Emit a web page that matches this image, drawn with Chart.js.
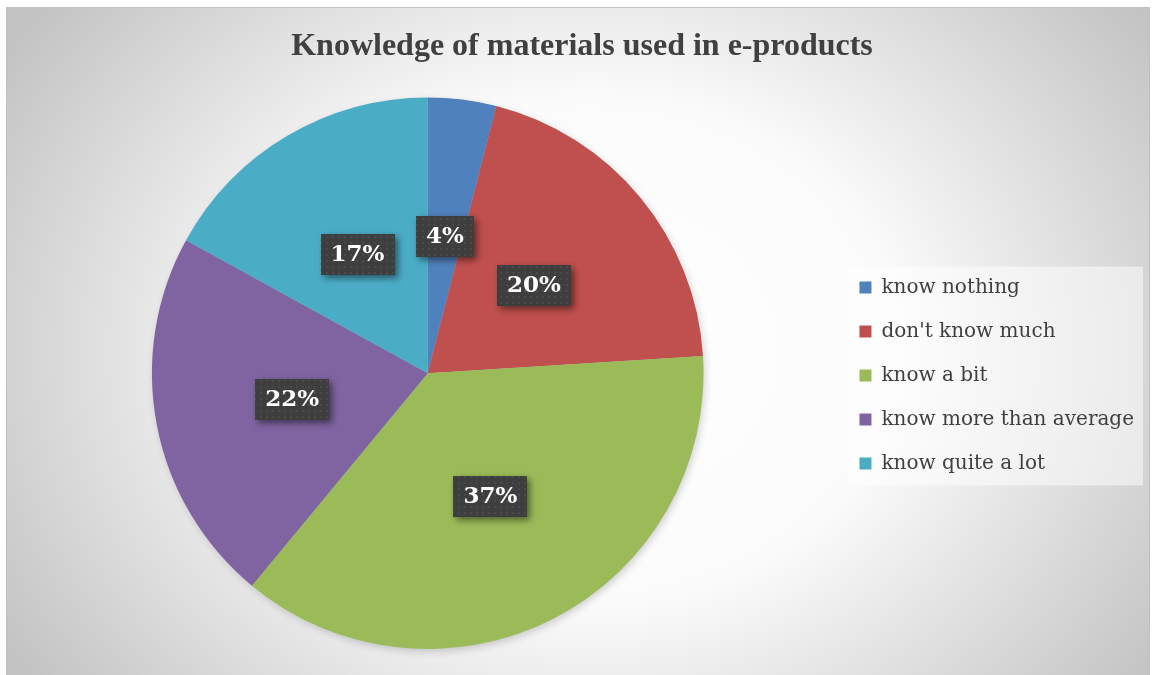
<!DOCTYPE html>
<html>
<head>
<meta charset="utf-8">
<script src="https://cdn.jsdelivr.net/npm/chart.js@4.4.1/dist/chart.umd.min.js"></script>
<style>
html,body{margin:0;padding:0;background:#fff;}
</style>
</head>
<body>
<canvas id="pie" width="1152" height="675"></canvas>
<script>
//Data
const categories = ['know nothing', "don't know much", 'know a bit', 'know more than average', 'know quite a lot'];
const shares = [4, 20, 37, 22, 17];
const sliceColors = ['#4F81BD', '#C0504D', '#9BBB59', '#8064A2', '#4BACC6'];
const chartTitle = 'Knowledge of materials used in e-products';

//dotted dark fill for the data labels
function makeDots(){
    const c = document.createElement('canvas');
    c.width = 6; c.height = 6;
    const g = c.getContext('2d');
    g.fillStyle = '#3e3e3e';
    g.fillRect(0, 0, 6, 6);
    g.fillStyle = '#4a4a4a';
    g.fillRect(2, 2, 2, 2);
    return c;
}

//background gradient + legend box
const backdrop = {
    id: 'backdrop',
    beforeDraw(chart){
        const ctx = chart.ctx;
        ctx.save();
        ctx.fillStyle = '#fff';
        ctx.fillRect(0, 0, chart.width, chart.height);
        ctx.save();
        const sy = 560 / 680;
        ctx.translate(590, 350);
        ctx.scale(1, sy);
        const grad = ctx.createRadialGradient(0, 0, 0, 0, 0, 680);
        grad.addColorStop(0, '#ffffff');
        grad.addColorStop(0.45, '#fbfbfb');
        grad.addColorStop(1, '#c4c4c4');
        ctx.fillStyle = grad;
        ctx.fillRect(-584, (7 - 350) / sy, 1144, 668 / sy);
        ctx.restore();
        ctx.strokeStyle = '#c0c0c0';
        ctx.lineWidth = 1;
        ctx.strokeRect(6.5, 7.5, 1143, 670);

        const legend = chart.legend;
        const boxes = legend && legend.legendHitBoxes;
        if (boxes && boxes.length){
            const last = boxes[boxes.length - 1];
            const x0 = boxes[0].left - 11;
            const y0 = boxes[0].top - 11;
            const x1 = legend.right - 1;
            const y1 = last.top + last.height + 12;
            ctx.fillStyle = 'rgba(255,255,255,0.5)';
            ctx.fillRect(x0, y0, x1 - x0, y1 - y0);
        }
        ctx.restore();
    }
};

//soft shadow under the pie
const pieShadow = {
    id: 'pieShadow',
    beforeDatasetsDraw(chart){
        const arc = chart.getDatasetMeta(0).data[0];
        if (!arc) return;
        const p = arc.getProps(['x', 'y', 'outerRadius'], true);
        const ctx = chart.ctx;
        ctx.save();
        ctx.shadowColor = 'rgba(0,0,0,0.2)';
        ctx.shadowBlur = 8;
        ctx.shadowOffsetX = 2;
        ctx.shadowOffsetY = 3;
        ctx.fillStyle = '#bbbbbb';
        ctx.beginPath();
        ctx.arc(p.x, p.y, p.outerRadius - 1, 0, Math.PI * 2);
        ctx.fill();
        ctx.restore();
    }
};

//percent labels in dark boxes
const pctLabels = {
    id: 'pctLabels',
    afterDatasetsDraw(chart){
        const ctx = chart.ctx;
        const dots = ctx.createPattern(makeDots(), 'repeat');
        const meta = chart.getDatasetMeta(0);
        ctx.save();
        ctx.font = 'bold 23px "DejaVu Serif"';
        meta.data.forEach(function(arc, i){
            const pos = arc.tooltipPosition(true);
            const txt = shares[i] + '%';
            const w = ctx.measureText(txt).width + 20;
            const h = 41;
            ctx.save();
            ctx.shadowColor = 'rgba(0,0,0,0.5)';
            ctx.shadowBlur = 7;
            ctx.shadowOffsetX = 3;
            ctx.shadowOffsetY = 3;
            ctx.fillStyle = dots;
            ctx.fillRect(Math.round(pos.x - w / 2), Math.round(pos.y - h / 2), Math.round(w), h);
            ctx.restore();
            ctx.fillStyle = '#ffffff';
            ctx.textAlign = 'center';
            ctx.textBaseline = 'middle';
            ctx.fillText(txt, pos.x, pos.y + 1);
        });
        ctx.restore();
    }
};

const data = {
    labels: categories,
    datasets: [{
        data: shares,
        backgroundColor: sliceColors,
        borderWidth: 0,
        hoverOffset: 0,
        offset: 0
    }]
};

const config = {
    type: 'pie',
    data: data,
    options: {
        responsive: false,
        animation: false,
        events: [],
        devicePixelRatio: 1,
        layout: {
            padding: {left: 20, right: 8, top: 0, bottom: 26}
        },
        plugins: {
            title: {
                display: true,
                text: chartTitle,
                color: '#404040',
                font: {family: '"Liberation Serif"', size: 32, weight: 'bold', lineHeight: 1.2},
                padding: {top: 28, bottom: 31}
            },
            legend: {
                position: 'right',
                //empty legend title only pushes the items down
                title: {
                    display: true,
                    text: ' ',
                    font: {size: 1, lineHeight: 1},
                    padding: {top: 101, bottom: 0}
                },
                labels: {
                    color: '#404040',
                    font: {family: '"DejaVu Serif"', size: 20},
                    boxWidth: 12,
                    boxHeight: 12,
                    padding: 24
                }
            },
            tooltip: {enabled: false}
        }
    },
    plugins: [backdrop, pieShadow, pctLabels]
};

const myChart = new Chart(document.getElementById('pie'), config);
</script>
</body>
</html>
